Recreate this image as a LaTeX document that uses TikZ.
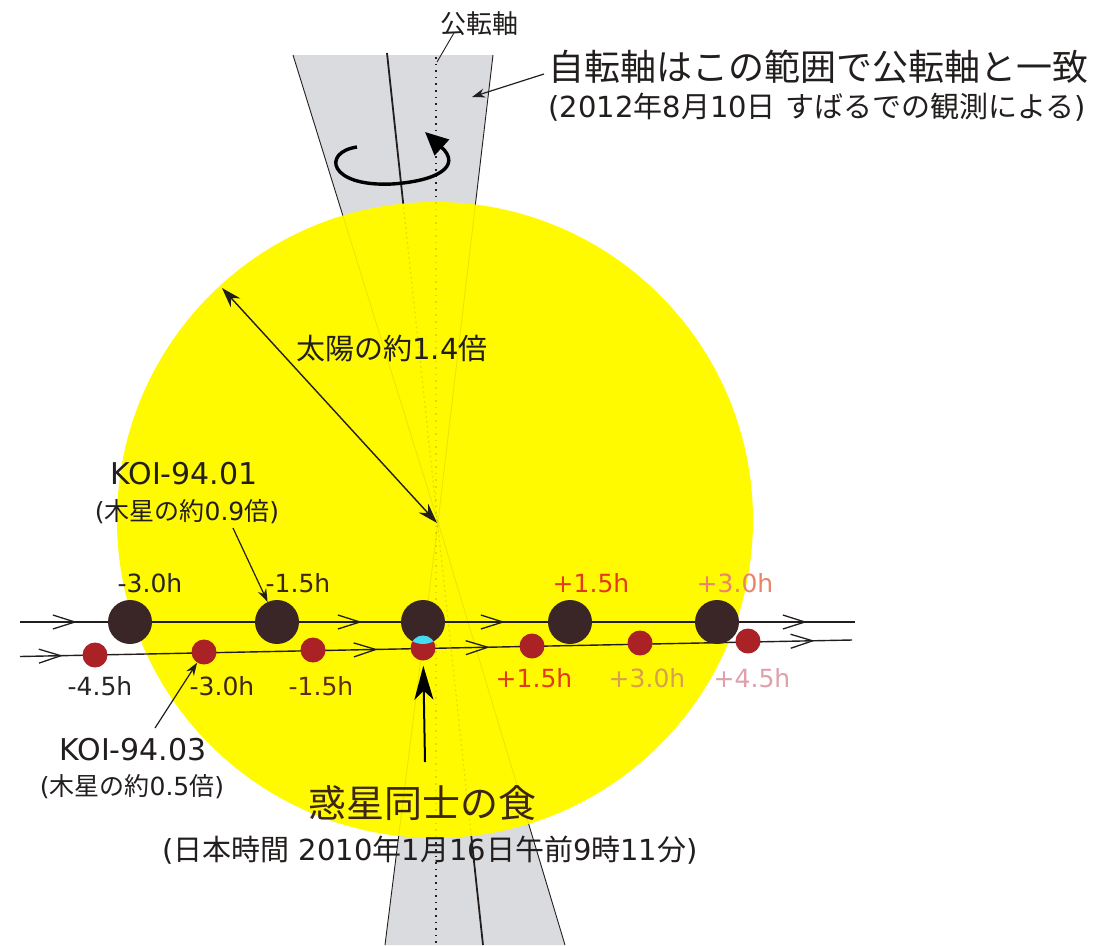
\documentclass[tikz,border=0pt]{standalone}
\usepackage{fontspec}
\setmainfont{DejaVu Sans}
\newfontfamily\jp{Noto Sans CJK JP}
\usetikzlibrary{arrows.meta,decorations.markings}

\definecolor{sunyellow}{RGB}{255,250,0}
\definecolor{conegrey}{RGB}{218,219,222}
\definecolor{bigplanet}{RGB}{58,38,38}
\definecolor{smallplanet}{RGB}{170,34,38}
\definecolor{lensblue}{RGB}{70,220,240}
\definecolor{ink}{RGB}{35,30,30}
\definecolor{hA}{RGB}{40,36,36}
\definecolor{hB}{RGB}{60,38,20}
\definecolor{hC}{RGB}{96,44,20}
\definecolor{hD}{RGB}{228,58,28}
\definecolor{hE}{RGB}{232,132,104}
\definecolor{hF}{RGB}{214,160,80}
\definecolor{hG}{RGB}{222,160,170}

\tikzset{
  chev/.tip={Straight Barb[length=22pt,width=14pt,line width=1.3pt]},
  bigp/.style={circle,fill=bigplanet,minimum size=44pt,inner sep=0pt},
  smallp/.style={circle,fill=smallplanet,minimum size=25pt,inner sep=0pt},
  track/.style={line width=1.4pt,draw=ink},
  hour/.style={font=\fontsize{25}{28}\selectfont,inner sep=0pt},
  captxt/.style={font=\fontsize{29}{32}\selectfont,inner sep=0pt,text=ink},
  subtxt/.style={font=\fontsize{25}{28}\selectfont,inner sep=0pt,text=ink},
  pointer/.style={draw=ink,line width=1.2pt,-{Stealth[length=13pt,width=9pt]}},
  coneedge/.style={draw=ink,line width=0.9pt},
}

\begin{document}
\begin{tikzpicture}[x=1pt,y=-1pt]
\useasboundingbox (0,0) rectangle (1102,945);
\fill[white] (0,0) rectangle (1102,945);

% double cone of allowed spin-axis directions, apex at the star centre
\coordinate (apex) at (438,522);
\coordinate (ctl) at (293,55);
\coordinate (ctr) at (493,55);
\coordinate (cbl) at (385,945);
\coordinate (cbr) at (565,945);
\fill[conegrey] (ctl) -- (ctr) -- (apex) -- cycle;
\fill[conegrey] (cbl) -- (cbr) -- (apex) -- cycle;
\draw[coneedge] (ctl) -- (apex) -- (cbr);
\draw[coneedge] (ctr) -- (apex) -- (cbl);

% spin axis and orbital axis
\coordinate (spintop) at (387,53);
\coordinate (spinbot) at (483,945);
\coordinate (orbtop) at (436,57);
\coordinate (orbbot) at (436,945);
\draw[ink,line width=1.8pt] (spintop) -- (spinbot);
\draw[ink,line width=1.6pt,dash pattern=on 1.6pt off 5pt] (orbtop) -- (orbbot);

% the star
\node[circle,fill=sunyellow,minimum size=636pt,inner sep=0pt] (sun) at (435,520) {};
\begin{scope}
  \clip (sun.center) circle (318);
  \draw[black,opacity=0.08,line width=0.9pt] (ctl) -- (apex) -- (cbr);
  \draw[black,opacity=0.08,line width=0.9pt] (ctr) -- (apex) -- (cbl);
  \draw[black,opacity=0.10,line width=1.2pt,dash pattern=on 2pt off 3pt] (spintop) -- (spinbot);
  \draw[black,opacity=0.12,line width=1.4pt,dash pattern=on 1.6pt off 5pt] (orbtop) -- (orbbot);
\end{scope}

% rotation sense
\draw[black,line width=3.4pt,-{Triangle[length=23pt,width=21pt]}]
  (357,147) .. controls (322,152) and (328,187) .. (392,184)
  .. controls (438,181) and (462,166) .. (425,132);

% labels for the axes
\node[font=\jp\fontsize{26}{28}\selectfont,inner sep=0pt,text=ink] (orblab) at (479,24) {公転軸};
\coordinate (orbptr) at (437,62);
\draw[ink,line width=0.9pt] (orblab.south west) ++(14,-3) -- (orbptr);

\node[font=\jp\fontsize{36}{40}\selectfont,inner sep=0pt,text=ink] (conelab) at (818,67) {自転軸はこの範囲で公転軸と一致};
\node[font=\fontsize{29}{32}\selectfont,inner sep=0pt,text=ink] (conesub) at (817,107)
  {(2012{\jp 年}8{\jp 月}10{\jp 日} {\jp すばるでの観測による})};
\coordinate (conetail) at (544,74);
\coordinate (conetip) at (472,97);
\draw[pointer] (conetail) -- (conetip);

% stellar radius
\coordinate (limb) at (222,288);
\coordinate (centre) at (437,523);
\draw[ink,line width=1.4pt,{Stealth[length=20pt,width=13pt]}-{Stealth[length=20pt,width=13pt]}] (limb) -- (centre);
\node[captxt] (radlab) at (392,348) {{\jp 太陽の約}1.4{\jp 倍}};

% transit tracks
\coordinate (u0) at (20,622);
\coordinate (u1) at (855,622);
\coordinate (w0) at (20,656.5);
\coordinate (w1) at (852,640);
\draw[track,postaction={decorate},decoration={markings,
  mark=at position 57pt with {\arrow{chev}},
  mark=at position 342pt with {\arrow{chev}},
  mark=at position 485pt with {\arrow{chev}},
  mark=at position 787pt with {\arrow{chev}}}] (u0) -- (u1);
\draw[track,postaction={decorate},decoration={markings,
  mark=at position 43pt with {\arrow{chev}},
  mark=at position 358pt with {\arrow{chev}},
  mark=at position 470pt with {\arrow{chev}},
  mark=at position 795pt with {\arrow{chev}}}] (w0) -- (w1);

% KOI-94.01 positions
\node[bigp] (a1) at (130,622) {};
\node[bigp] (a2) at (277,622) {};
\node[bigp] (a3) at (423,622) {};
\node[bigp] (a4) at (570,622) {};
\node[bigp] (a5) at (717,622) {};

% KOI-94.03 positions
\node[smallp] (b1) at (95,655) {};
\node[smallp] (b2) at (204,652) {};
\node[smallp] (b3) at (313,650) {};
\node[smallp] (b4) at (423,648) {};
\node[smallp] (b5) at (532,646) {};
\node[smallp] (b6) at (640,643) {};
\node[smallp] (b7) at (748,641) {};

% overlap of the two planets during the mutual event
\begin{scope}
  \clip (b4.center) circle (12.5);
  \fill[lensblue] (a3.center) circle (22);
\end{scope}

% times
\node[hour,text=hA] (ta1) at (150,583) {-3.0h};
\node[hour,text=hB] (ta2) at (298,583) {-1.5h};
\node[hour,text=hD] (ta4) at (591,583) {+1.5h};
\node[hour,text=hE] (ta5) at (735,583) {+3.0h};
\node[hour,text=hA] (tb1) at (100,686) {-4.5h};
\node[hour,text=hB] (tb2) at (222,686) {-3.0h};
\node[hour,text=hC] (tb3) at (321,686) {-1.5h};
\node[hour,text=hD] (tb5) at (534,678) {+1.5h};
\node[hour,text=hF] (tb6) at (647,678) {+3.0h};
\node[hour,text=hG] (tb7) at (752,678) {+4.5h};

% planet names
\node[captxt,font=\fontsize{30}{32}\selectfont] (koi1) at (184,474) {KOI-94.01};
\node[subtxt] (koi1s) at (187,512) {({\jp 木星の約}0.9{\jp 倍})};
\coordinate (koi1p) at (233,528);
\draw[pointer] (koi1p) -- (a2);

\node[captxt,font=\fontsize{30}{32}\selectfont] (koi3) at (133,750) {KOI-94.03};
\node[subtxt] (koi3s) at (132,787) {({\jp 木星の約}0.5{\jp 倍})};
\coordinate (koi3p) at (155,728);
\draw[pointer] (koi3p) -- (b2);

% mutual event
\coordinate (evtail) at (425,762);
\draw[black,line width=2pt,-{Stealth[length=34pt,width=19pt,inset=9pt]},shorten >=5pt] (evtail) -- (b4);
\node[font=\jp\fontsize{38}{40}\selectfont,inner sep=0pt,text=hB] (evlab) at (422,803) {惑星同士の食};
\node[font=\fontsize{29}{32}\selectfont,inner sep=0pt,text=ink] (evsub) at (430,850)
  {({\jp 日本時間} 2010{\jp 年}1{\jp 月}16{\jp 日午前}9{\jp 時}11{\jp 分})};
\end{tikzpicture}
\end{document}
